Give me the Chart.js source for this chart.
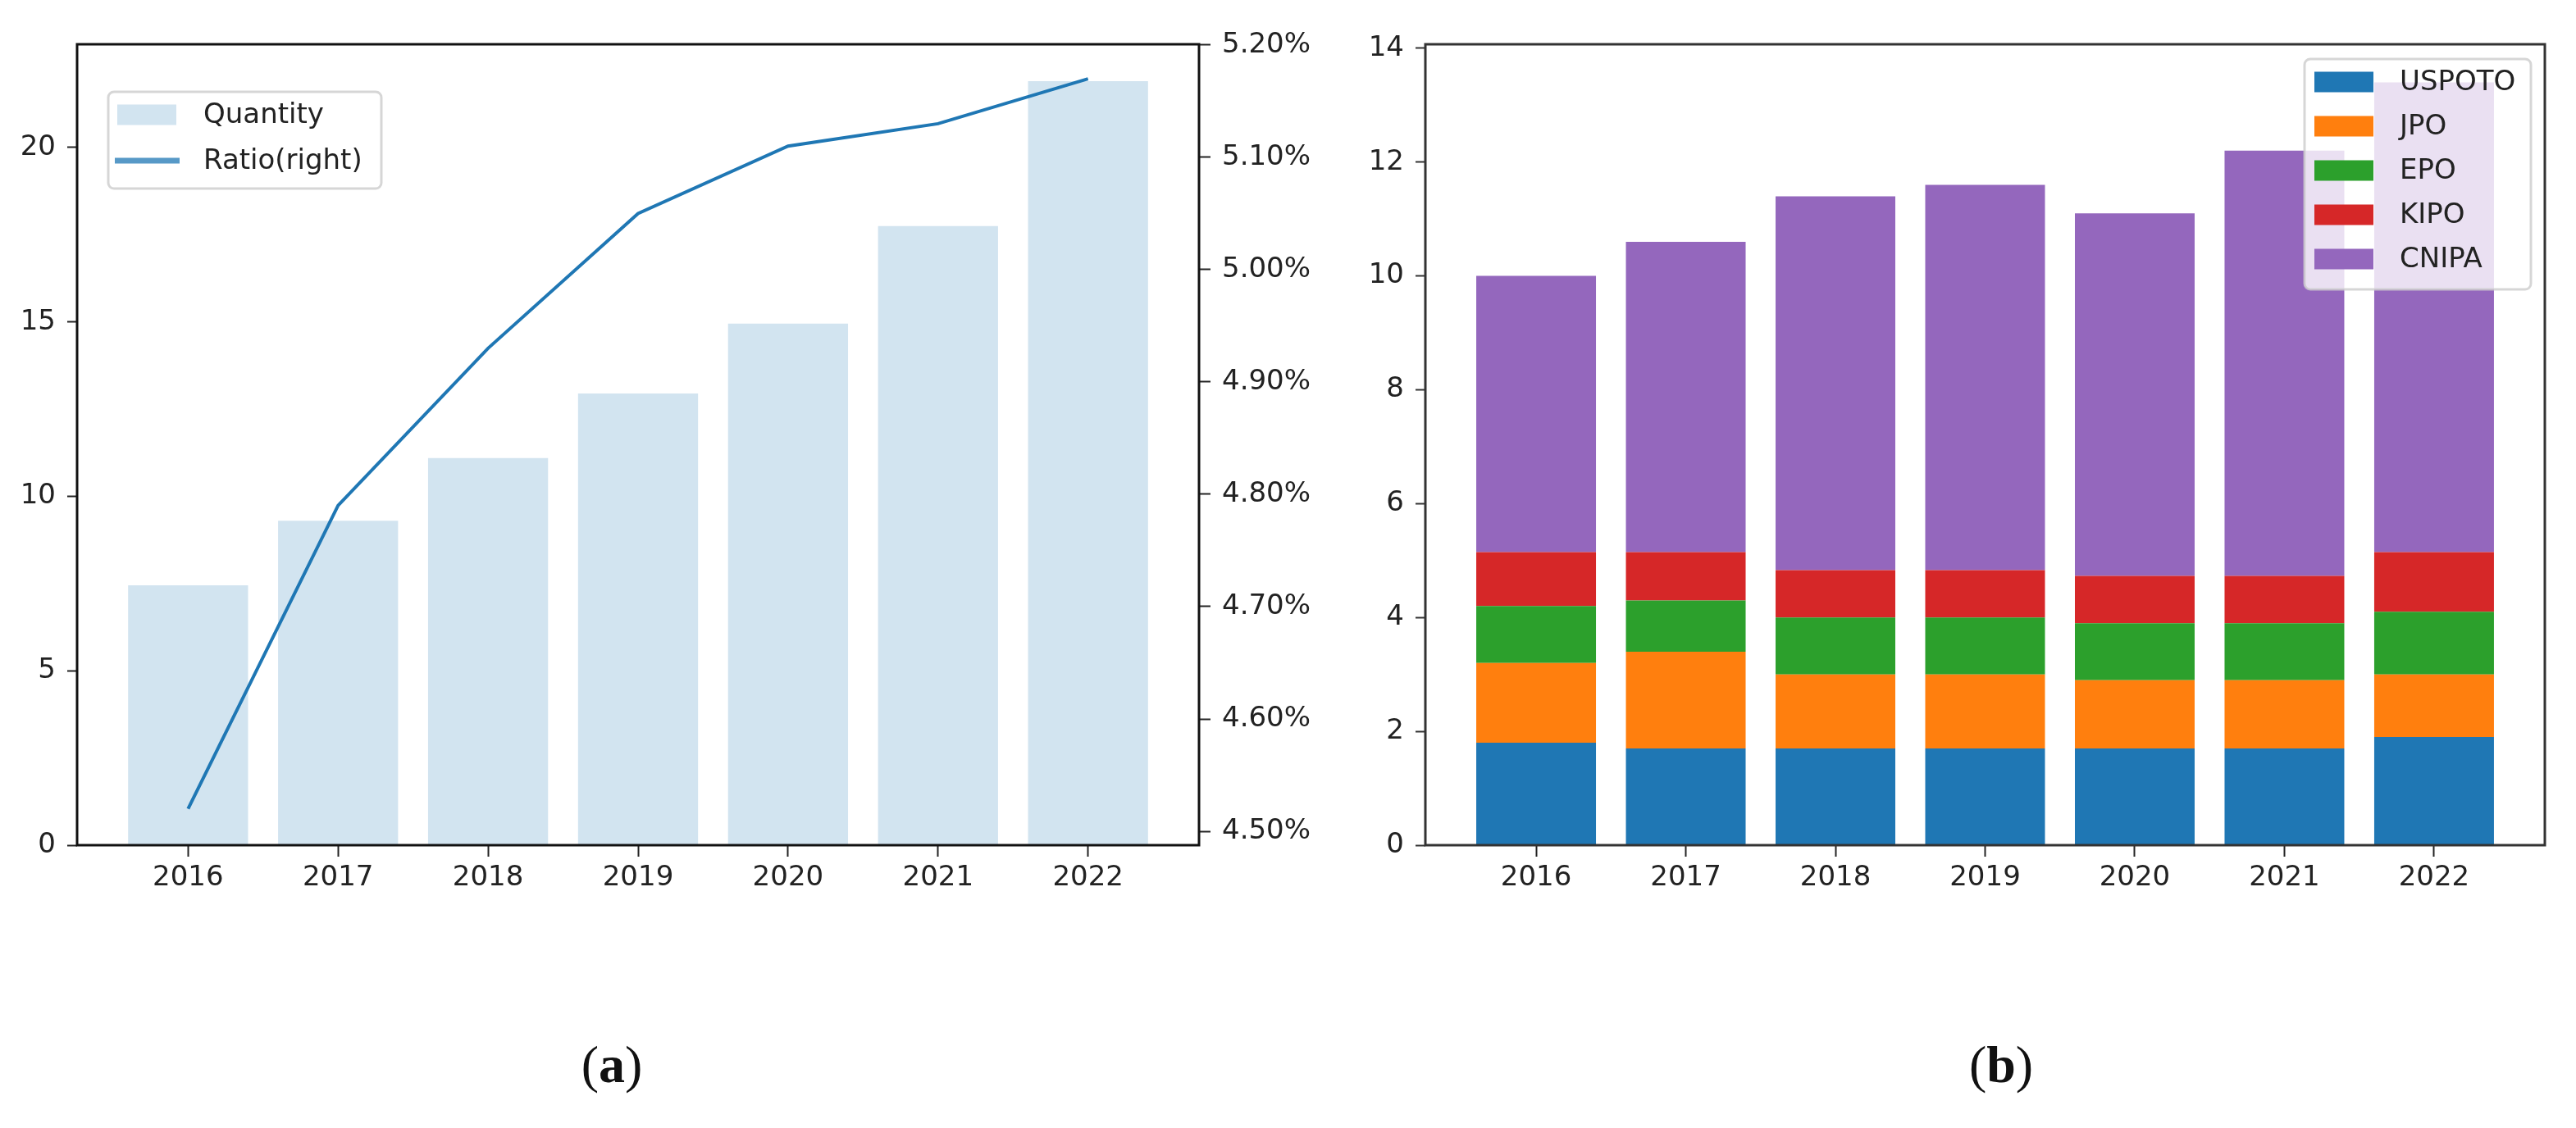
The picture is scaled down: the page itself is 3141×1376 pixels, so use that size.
<!DOCTYPE html>
<html>
<head>
<meta charset="utf-8">
<script src="https://cdn.jsdelivr.net/npm/chart.js@4.4.1/dist/chart.umd.min.js"></script>
<style>
  html, body { margin: 0; padding: 0; background: #fff; }
  body { width: 3141px; height: 1376px; position: relative; overflow: hidden; }
  .panel { position: absolute; top: 0; }
  .caption {
    position: absolute; top: 1262px; width: 200px; text-align: center;
    font-family: "Liberation Serif", "DejaVu Serif", serif; font-size: 64px; color: #111;
  }
  .caption b { font-weight: bold; }
</style>
</head>
<body>
<div class="panel" style="left:0;width:1640px;height:1100px"><canvas id="left" width="1640" height="1100"></canvas></div>
<div class="panel" style="left:1640px;width:1501px;height:1100px"><canvas id="right" width="1501" height="1100"></canvas></div>
<div class="caption" style="left:646px">(<b>a</b>)</div>
<div class="caption" style="left:2340px">(<b>b</b>)</div>
<script>
// Data
const years = ['2016', '2017', '2018', '2019', '2020', '2021', '2022'];
const quantity = [7.45, 9.3, 11.1, 12.95, 14.95, 17.75, 21.9];
const ratio = [4.52, 4.79, 4.93, 5.05, 5.11, 5.13, 5.17];

const uspto = [1.8, 1.7, 1.7, 1.7, 1.7, 1.7, 1.9];
const jpo = [1.4, 1.7, 1.3, 1.3, 1.2, 1.2, 1.1];
const epo = [1.0, 0.9, 1.0, 1.0, 1.0, 1.0, 1.1];
const kipo = [0.95, 0.85, 0.83, 0.83, 0.83, 0.83, 1.05];
const cnipa = [4.85, 5.45, 6.57, 6.77, 6.37, 7.47, 8.25];

const quantityTicks = [0, 5, 10, 15, 20];
const ratioTicks = [4.5, 4.6, 4.7, 4.8, 4.9, 5.0, 5.1, 5.2];
const stackTicks = [0, 2, 4, 6, 8, 10, 12, 14];

const C = { blue: '#1f77b4', orange: '#ff7f0e', green: '#2ca02c', red: '#d62728', purple: '#9467bd' };
const FONT = { family: 'DejaVu Sans', size: 34 };
const TEXT = '#222';

function pts(arr) {
    return arr.map((v, i) => ({ x: i, y: v }));
}

function fixTicks(list) {
    return scale => { scale.ticks = list.map(v => ({ value: v })); };
}

// x axis shared setup: linear so the side margins match matplotlib
function xAxis(stacked) {
    return {
        type: 'linear',
        min: -0.74,
        max: 6.74,
        offset: false,
        stacked: stacked,
        afterBuildTicks: fixTicks(years.map((_, i) => i)),
        afterFit: s => { s.height = 69; },
        grid: { offset: false, drawOnChartArea: false, tickLength: 14, tickWidth: 2, tickColor: '#222' },
        border: { display: false },
        ticks: { font: FONT, color: TEXT, padding: 6, maxRotation: 0, callback: v => years[v] }
    };
}

// spines on all four sides
const frame = {
    id: 'frame',
    afterDatasetsDraw(chart, args, opts) {
        const a = chart.chartArea, ctx = chart.ctx;
        ctx.save();
        ctx.strokeStyle = opts.color;
        ctx.lineWidth = 3;
        ctx.strokeRect(a.left, a.top, a.right - a.left, a.bottom - a.top);
        ctx.restore();
    }
};

// matplotlib-like legend box
const boxLegend = {
    id: 'boxLegend',
    afterDraw(chart, args, opts) {
        const ctx = chart.ctx;
        const b = opts.box;
        ctx.save();
        ctx.beginPath();
        ctx.roundRect(b.x, b.y, b.w, b.h, 7);
        ctx.fillStyle = 'rgba(255,255,255,0.8)';
        ctx.fill();
        ctx.lineWidth = 3;
        ctx.strokeStyle = 'rgba(204,204,204,0.8)';
        ctx.stroke();
        ctx.font = '34px "DejaVu Sans"';
        ctx.textBaseline = 'middle';
        ctx.fillStyle = TEXT;
        opts.items.forEach((it, i) => {
            const cy = opts.y0 + i * opts.step;
            if (it.kind === 'line') {
                ctx.strokeStyle = it.color;
                ctx.lineWidth = 7;
                ctx.beginPath();
                ctx.moveTo(opts.px - 3, cy);
                ctx.lineTo(opts.px + 76, cy);
                ctx.stroke();
            } else {
                ctx.fillStyle = it.color;
                ctx.fillRect(opts.px, cy - 12.5, 72, 25);
            }
            ctx.fillStyle = TEXT;
            ctx.fillText(it.label, opts.tx, cy + 1);
        });
        ctx.restore();
    }
};

const base = {
    responsive: false,
    animation: false,
    devicePixelRatio: 1,
    plugins: { legend: { display: false }, tooltip: { enabled: false } }
};

// (a) quantity bars + ratio line
new Chart(document.getElementById('left'), {
    data: {
        datasets: [
            {
                type: 'line', label: 'Ratio(right)', data: pts(ratio), yAxisID: 'y2',
                borderColor: C.blue, borderWidth: 4, pointRadius: 0, tension: 0, order: 0
            },
            {
                type: 'bar', label: 'Quantity', data: pts(quantity), yAxisID: 'y',
                backgroundColor: 'rgb(210,228,240)', borderWidth: 0,
                barPercentage: 0.8, categoryPercentage: 1.0, order: 1
            }
        ]
    },
    options: {
        ...base,
        layout: { padding: { top: 54, left: 0, right: 0, bottom: 0 } },
        scales: {
            x: xAxis(false),
            y: {
                position: 'left', min: 0, max: 22.96,
                afterBuildTicks: fixTicks(quantityTicks),
                afterFit: s => { s.width = 94; },
                grid: { drawOnChartArea: false, tickLength: 12, tickWidth: 2, tickColor: '#222' },
                border: { display: false },
                ticks: { font: FONT, color: TEXT, padding: 14 }
            },
            y2: {
                position: 'right', min: 4.4876, max: 5.2007,
                afterBuildTicks: fixTicks(ratioTicks),
                afterFit: s => { s.width = 178; },
                grid: { drawOnChartArea: false, tickLength: 14, tickWidth: 2, tickColor: '#222' },
                border: { display: false },
                ticks: { font: FONT, color: TEXT, padding: 14, callback: v => v.toFixed(2) + '%' }
            }
        },
        plugins: {
            ...base.plugins,
            frame: { color: '#111' },
            boxLegend: {
                box: { x: 132, y: 112, w: 333, h: 118 },
                px: 143, tx: 248, y0: 140, step: 56,
                items: [
                    { label: 'Quantity', color: 'rgb(210,228,240)' },
                    { label: 'Ratio(right)', color: '#5799c7', kind: 'line' }
                ]
            }
        }
    },
    plugins: [frame, boxLegend]
});

// (b) stacked offices
const offices = [
    ['USPOTO', uspto, C.blue],
    ['JPO', jpo, C.orange],
    ['EPO', epo, C.green],
    ['KIPO', kipo, C.red],
    ['CNIPA', cnipa, C.purple]
];

new Chart(document.getElementById('right'), {
    type: 'bar',
    data: {
        datasets: offices.map(([name, vals, col]) => ({
            label: name, data: pts(vals), backgroundColor: col, borderWidth: 0,
            barPercentage: 0.8, categoryPercentage: 1.0
        }))
    },
    options: {
        ...base,
        layout: { padding: { top: 54, left: 0, right: 38, bottom: 0 } },
        scales: {
            x: xAxis(true),
            y: {
                stacked: true, min: 0, max: 14.07,
                afterBuildTicks: fixTicks(stackTicks),
                afterFit: s => { s.width = 98; },
                grid: { drawOnChartArea: false, tickLength: 12, tickWidth: 2, tickColor: '#333' },
                border: { display: false },
                ticks: { font: FONT, color: TEXT, padding: 14 }
            }
        },
        plugins: {
            ...base.plugins,
            frame: { color: '#333' },
            boxLegend: {
                box: { x: 2810 - 1640, y: 72, w: 276, h: 281 },
                px: 2822 - 1640, tx: 2926 - 1640, y0: 100, step: 54,
                items: offices.map(([name, , col]) => ({ label: name, color: col }))
            }
        }
    },
    plugins: [frame, boxLegend]
});
</script>
</body>
</html>
